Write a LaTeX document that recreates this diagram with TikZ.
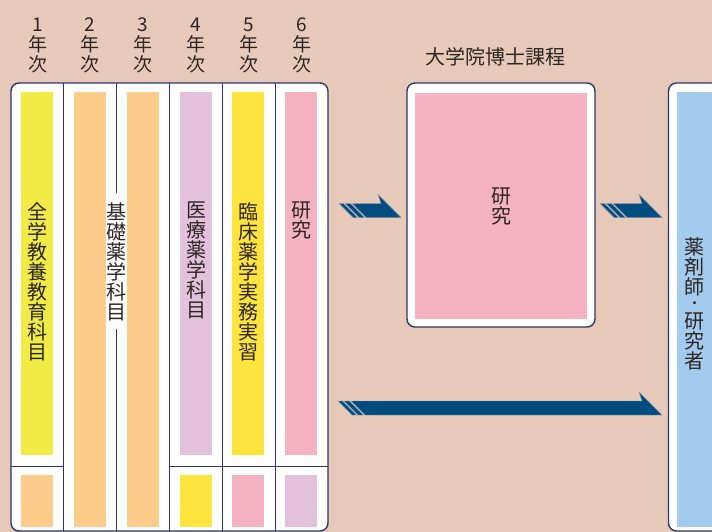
\documentclass[tikz,border=0pt]{standalone}
\usepackage{fontspec}
\newfontfamily\jpfont{Noto Sans CJK JP}
\definecolor{bgc}{HTML}{E6C9B8}
\definecolor{framec}{HTML}{2D3566}
\definecolor{ygc}{HTML}{F0EC45}
\definecolor{orc}{HTML}{FBCC8A}
\definecolor{lvc}{HTML}{E3C1DB}
\definecolor{ylc}{HTML}{FFE43D}
\definecolor{pkc}{HTML}{F4B2C2}
\definecolor{blc}{HTML}{A2CBEE}
\definecolor{arrc}{HTML}{004C80}
\definecolor{arredge}{HTML}{8C9BAA}
\definecolor{txtc}{HTML}{2E2623}
\tikzset{
  frame/.style={draw=framec, line width=1.4pt, fill=white},
  divider/.style={draw=framec, line width=0.9pt},
  vtext/.style={font=\jpfont\fontsize{20}{20}\selectfont, text=txtc, align=center, inner sep=0pt, anchor=north},
  yeartext/.style={font=\jpfont\fontsize{19}{20}\selectfont, text=txtc, align=center, inner sep=0pt, anchor=north},
  arrpart/.style={fill=arrc, draw=arredge, line width=0.4pt},
}
\newcommand\flowarrow[3]{%
  \begin{scope}[shift={(#1,#3)}]
    \path[arrpart] (0,0) -- (4.5,0) -- (18.5,14) -- (14,14) -- cycle;
    \path[arrpart] (6.2,0) -- (11.4,0) -- (25.4,14) -- (20.2,14) -- cycle;
    \path[arrpart] (13,0) -- ({#2-#1-20},0) -- ({#2-#1-23},-9) -- ({#2-#1},14) -- (27,14) -- cycle;
  \end{scope}}
\begin{document}
\begin{tikzpicture}[x=1pt,y=-1pt]
\useasboundingbox (0,0) rectangle (712,532);
\fill[bgc] (0,0) rectangle (712,532);
\clip (0,0) rectangle (712,532);

% year labels
\node[yeartext] (y1) at (37.5,18) {1\\年\\次};
\node[yeartext] (y2) at (90,18) {2\\年\\次};
\node[yeartext] (y3) at (143,18) {3\\年\\次};
\node[yeartext] (y4) at (196,18) {4\\年\\次};
\node[yeartext] (y5) at (248.5,18) {5\\年\\次};
\node[yeartext] (y6) at (301.5,18) {6\\年\\次};

% main frame
\path[frame, rounded corners=8pt] (11,83) rectangle (328,531);
% upper bars
\fill[ygc] (21,92) rectangle (53,455);
\fill[orc] (74,92) rectangle (106,527);
\fill[orc] (127,92) rectangle (159,527);
\fill[lvc] (180,92) rectangle (212,455);
\fill[ylc] (232,92) rectangle (264,455);
\fill[pkc] (285,92) rectangle (317,455);
% lower bars
\fill[orc] (21,475) rectangle (53,527);
\fill[ylc] (180,475) rectangle (212,527);
\fill[pkc] (232,475) rectangle (264,527);
\fill[lvc] (285,475) rectangle (317,527);
% dividers
\foreach \xx in {63.3,116.3,169.7,222.3,275.3}
  \draw[divider] (\xx,83) -- (\xx,531);
\draw[divider] (11,466) -- (63.3,466);
\draw[divider] (169.7,466) -- (328,466);

% column texts
\node[vtext] (t1) at (37.5,202) {全\\学\\教\\養\\教\\育\\科\\目};
\node[vtext, fill=white, inner ysep=9pt, inner xsep=0.5pt] (t23) at (116.5,193) {基\\礎\\薬\\学\\科\\目};
\node[vtext] (t4) at (196,202) {医\\療\\薬\\学\\科\\目};
\node[vtext] (t5) at (248.5,202) {臨\\床\\薬\\学\\実\\務\\実\\習};
\node[vtext] (t6) at (301.5,202) {研\\究};

% doctoral course
\node[font=\jpfont\fontsize{20}{20}\selectfont, text=txtc, inner sep=0pt] (dlabel) at (495,57) {大学院博士課程};
\path[frame, rounded corners=8pt] (407,83) rectangle (595,327);
\fill[pkc] (415,93) rectangle (587,319);
\node[vtext] (dres) at (501.5,188) {研\\究};

% right: pharmacist / researcher
\path[frame, rounded corners=8pt] (668.5,83) rectangle (740,531);
\fill[blc] (677,92) rectangle (720,527);
\node[vtext] (goal) at (694.5,237) {薬\\剤\\師\\[-5.3pt]{\fontsize{14}{14}\selectfont ・}\\[-0.7pt]研\\究\\者};

% arrows
\flowarrow{339}{401}{203.5}
\flowarrow{600}{662}{203.5}
\flowarrow{338}{662}{401}
\end{tikzpicture}
\end{document}
